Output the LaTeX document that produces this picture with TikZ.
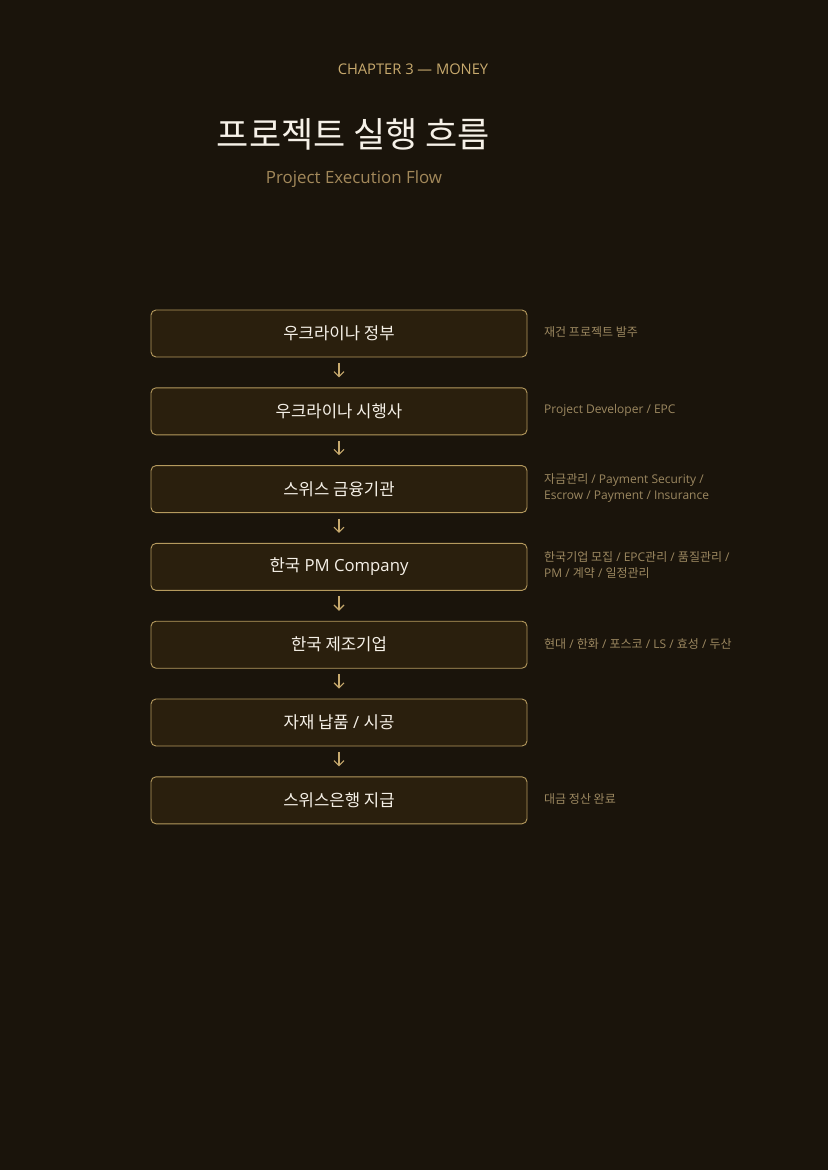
\documentclass[tikz,border=0pt]{standalone}
\usepackage{fontspec}
\setmainfont{Open Sans}
\newfontfamily\kr{Noto Sans CJK KR}
\usetikzlibrary{arrows.meta}
\definecolor{bgdark}{HTML}{1A140B}
\definecolor{boxfill}{HTML}{2A1F0D}
\definecolor{gold}{HTML}{B59A5E}
\definecolor{paleold}{HTML}{C8AA6E}
\definecolor{subgold}{HTML}{A2885A}
\definecolor{notegold}{HTML}{9C8860}
\definecolor{offwhite}{HTML}{F6F1E8}
\begin{document}
\begin{tikzpicture}[x=1pt, y=-1pt,
    stage/.style={draw=gold, line width=0.9pt, fill=boxfill, rounded corners=5pt,
        minimum width=376pt, minimum height=47pt, inner sep=0pt,
        text=offwhite, font=\fontsize{16.7}{20}\selectfont},
    note/.style={anchor=west, align=left, text=notegold, inner sep=0pt,
        font=\fontsize{12}{16}\selectfont},
    flow/.style={draw=paleold, line width=1.1pt, shorten <=5.5pt, shorten >=10pt,
        -{Straight Barb[length=5pt, width=10pt]}}]
        \useasboundingbox (0, 0) rectangle (828, 1170);
        \fill[bgdark] (0, 0) rectangle (828, 1170);

        % heading
        \draw (413, 69.5) node(chapter)[text=paleold, font=\fontsize{14.7}{17}\selectfont]{CHAPTER 3 — MONEY};
        \draw (353.5, 134) node(title)[text=offwhite, font=\kr\fontsize{35}{40}\selectfont]{프로젝트 실행 흐름};
        \draw (354, 179.5) node(subtitle)[text=subgold, font=\fontsize{16.9}{20}\selectfont]{Project Execution Flow};

        % stages
        \draw (339, 333.5) node(1)[stage]{\kr 우크라이나 정부};
        \draw (339, 411.3) node(2)[stage]{\kr 우크라이나 시행사};
        \draw (339, 489.1) node(3)[stage]{\kr 스위스 금융기관};
        \draw (339, 566.9) node(4)[stage]{{\kr 한국} PM Company};
        \draw (339, 644.7) node(5)[stage]{\kr 한국 제조기업};
        \draw (339, 722.5) node(6)[stage]{{\kr 자재 납품} / {\kr 시공}};
        \draw (339, 800.3) node(7)[stage]{\kr 스위스은행 지급};
        \draw[flow] (1) -- (2);
        \draw[flow] (2) -- (3);
        \draw[flow] (3) -- (4);
        \draw[flow] (4) -- (5);
        \draw[flow] (5) -- (6);
        \draw[flow] (6) -- (7);

        % side notes
        \draw (544, 332) node(n1)[note]{\kr 재건 프로젝트 발주};
        \draw (544, 410) node(n2)[note]{Project Developer / EPC};
        \draw (544, 488) node(n3)[note]{{\kr 자금관리} / Payment Security /\\Escrow / Payment / Insurance};
        \draw (544, 565.5) node(n4)[note]{{\kr 한국기업 모집} / EPC{\kr 관리} / {\kr 품질관리} /\\PM / {\kr 계약} / {\kr 일정관리}};
        \draw (544, 643.5) node(n5)[note]{{\kr 현대} / {\kr 한화} / {\kr 포스코} / LS / {\kr 효성} / {\kr 두산}};
        \draw (544, 798.5) node(n7)[note]{\kr 대금 정산 완료};
    \end{tikzpicture}
\end{document}
